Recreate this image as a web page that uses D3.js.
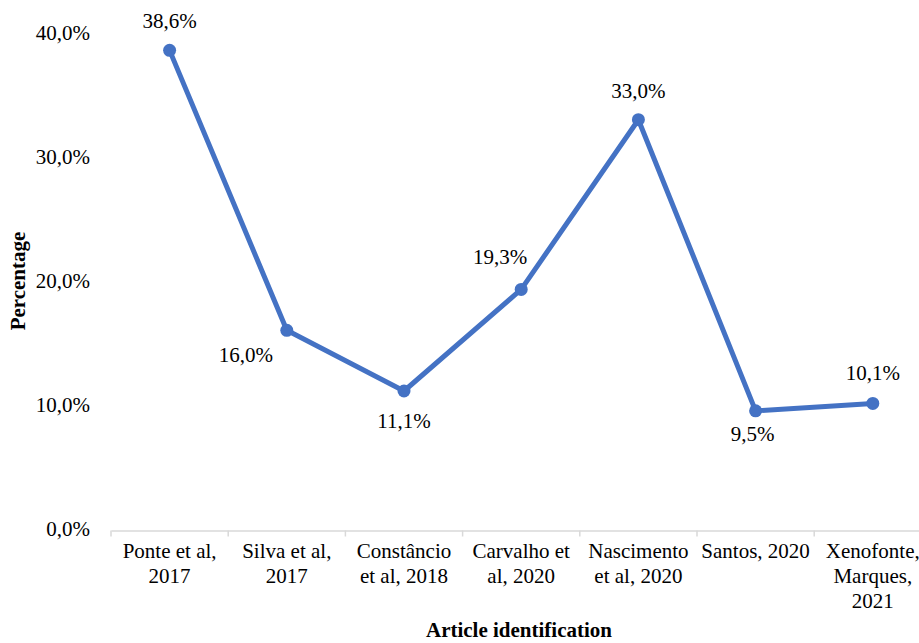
<!DOCTYPE html>
<html>
<head>
<meta charset="utf-8">
<script src="https://cdn.jsdelivr.net/npm/d3@7"></script>
<style>
  html, body { margin: 0; padding: 0; background: #fff; }
  svg text { font-family: "Liberation Serif", "Times New Roman", "DejaVu Serif", serif !important; }
</style>
</head>
<body>
<svg id="chart" width="919" height="643"></svg>
<script>
const categories = [
  "Ponte et al,\n2017",
  "Silva et al,\n2017",
  "Constâncio\net al, 2018",
  "Carvalho et\nal, 2020",
  "Nascimento\net al, 2020",
  "Santos, 2020",
  "Xenofonte,\nMarques,\n2021"
];
const values = [38.6, 16.0, 11.1, 19.3, 33.0, 9.5, 10.1];
const yTicks = [0, 10, 20, 30, 40];
const yTitle = "Percentage";
const xTitle = "Article identification";

// label placement offsets (layout only)
const labelDx = [0, -41, 0, -21, 0, -3, 0];
const labelDy = [-22, 32, 37, -25, -22, 30, -23];

const locale = d3.formatLocale({decimal: ",", thousands: ".", grouping: [3], currency: ["", ""]});
const fmt = v => locale.format(".1f")(v) + "%";

const FONT = "Liberation Serif";
const FS = 21;
const svg = d3.select("#chart");
const x0 = 111, bandW = 117.2, yBottom = 528.5, yTop = 33;

const x = d3.scaleBand().domain(categories).range([x0, x0 + bandW * categories.length]).paddingInner(0).paddingOuter(0);
const y = d3.scaleLinear().domain([0, 40]).range([yBottom, yTop]);

// x axis
const axisY = y(0) + 2;
const xAxis = d3.axisBottom(x).tickSize(0).tickFormat(() => "");
const gx = svg.append("g").attr("transform", `translate(0,${axisY})`).call(xAxis);
gx.select(".domain").attr("stroke", "#d9d9d9").attr("stroke-width", 1.5);
const boundaries = categories.map((c) => x(c)).concat([x0 + bandW * categories.length]);
svg.append("g").selectAll("line").data(boundaries).join("line")
  .attr("x1", d => d).attr("x2", d => d)
  .attr("y1", axisY).attr("y2", axisY + 6)
  .attr("stroke", "#d9d9d9").attr("stroke-width", 1.5);

// category labels
const catG = svg.append("g");
categories.forEach(c => {
  const lines = c.split("\n");
  const t = catG.append("text")
    .attr("x", x(c) + x.bandwidth() / 2)
    .attr("y", 558)
    .attr("text-anchor", "middle")
    .attr("font-family", FONT)
    .attr("font-size", FS)
    .attr("fill", "#000");
  lines.forEach((ln, i) => {
    t.append("tspan").attr("x", x(c) + x.bandwidth() / 2).attr("dy", i === 0 ? 0 : 25).text(ln);
  });
});

// y axis labels
const yAxis = d3.axisLeft(y).tickValues(yTicks).tickSize(0).tickFormat(fmt);
const gy = svg.append("g").attr("transform", `translate(90,0)`).call(yAxis);
gy.attr("font-family", FONT);
gy.select(".domain").remove();
gy.selectAll("text")
  .attr("font-family", FONT)
  .attr("font-size", FS).attr("fill", "#000").attr("x", 0).attr("dy", "0.32em");

// line
const cx = c => x(c) + x.bandwidth() / 2;
const line = d3.line().x((d, i) => cx(categories[i])).y(d => y(d));
svg.append("path").datum(values)
  .attr("d", line)
  .attr("fill", "none")
  .attr("stroke", "#4472C4")
  .attr("stroke-width", 5)
  .attr("stroke-linejoin", "round");

svg.append("g").selectAll("circle").data(values).join("circle")
  .attr("cx", (d, i) => cx(categories[i]))
  .attr("cy", d => y(d))
  .attr("r", 6.5)
  .attr("fill", "#4472C4");

// data labels
svg.append("g").selectAll("text").data(values).join("text")
  .attr("x", (d, i) => cx(categories[i]) + labelDx[i])
  .attr("y", (d, i) => y(d) + labelDy[i])
  .attr("text-anchor", "middle")
  .attr("font-family", FONT)
  .attr("font-size", FS)
  .attr("fill", "#000")
  .text(d => fmt(d));

// axis titles
svg.append("text")
  .attr("transform", `translate(25,281) rotate(-90)`)
  .attr("text-anchor", "middle")
  .attr("font-family", FONT)
  .attr("font-weight", "bold")
  .attr("font-size", FS)
  .text(yTitle);

svg.append("text")
  .attr("x", 519).attr("y", 637)
  .attr("text-anchor", "middle")
  .attr("font-family", FONT)
  .attr("font-weight", "bold")
  .attr("font-size", FS)
  .text(xTitle);
</script>
</body>
</html>
